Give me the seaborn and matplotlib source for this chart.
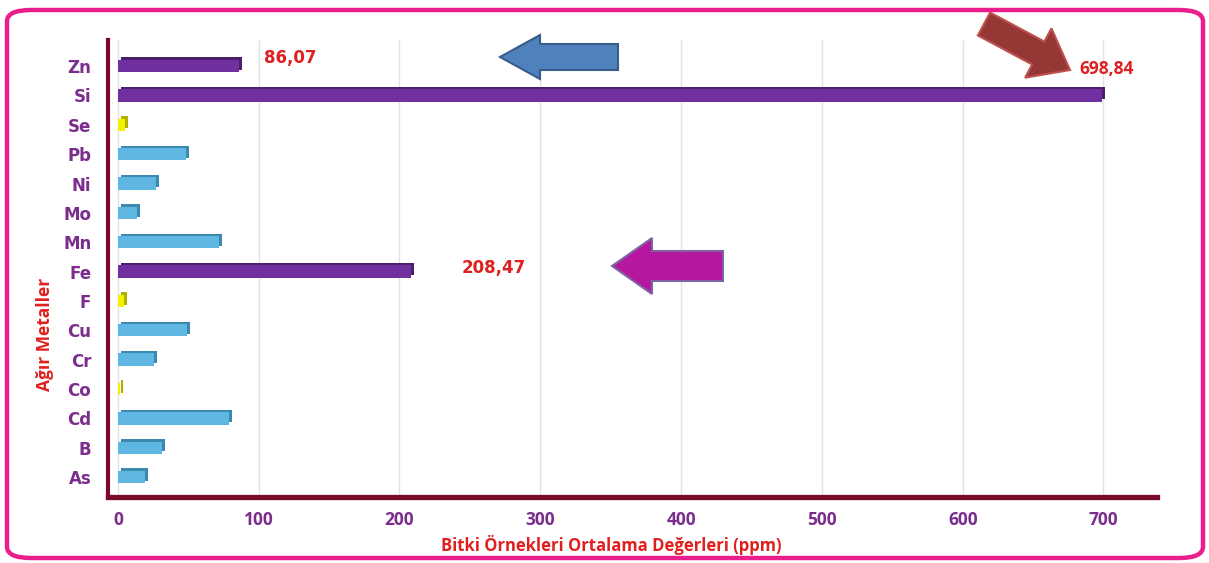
import matplotlib
matplotlib.use("Agg")
import matplotlib.pyplot as plt
import matplotlib.transforms as mtransforms
from matplotlib.patches import Polygon, FancyBboxPatch, Rectangle
import numpy as np
import pandas as pd
import seaborn as sns

# ---- data ----
elements = ["Zn", "Si", "Se", "Pb", "Ni", "Mo", "Mn", "Fe", "F", "Cu", "Cr", "Co", "Cd", "B", "As"]
values = [86.07, 698.84, 5.0, 48.5, 27.0, 13.5, 72.0, 208.47, 4.5, 49.0, 25.5, 1.5, 79.0, 31.5, 19.0]
groups = ["high", "high", "low", "mid", "mid", "mid", "mid", "high", "low", "mid", "mid", "low", "mid", "mid", "mid"]
labelled = {"Zn": "86,07", "Si": "698,84", "Fe": "208,47"}
x_ticks = [0, 100, 200, 300, 400, 500, 600, 700]

group_colors = {"high": "#7030A0", "mid": "#5DB7E0", "low": "#F2F200"}
group_dark = {"high": "#4B1F6E", "mid": "#3A8AB0", "low": "#B0B000"}

df = pd.DataFrame({"element": elements, "value": values, "group": groups})
palette = {e: group_colors[g] for e, g in zip(elements, groups)}

sns.set_theme(style="white")
plt.rcParams["font.family"] = ["DejaVu Sans"]

W, H = 1209, 563
fig = plt.figure(figsize=(W / 100, H / 100), dpi=100)
fig.patch.set_facecolor("white")

def fx(px):
    return px / W

def fy(py):
    return 1 - py / H

ax = fig.add_axes([fx(108), fy(497), fx(1157) - fx(108), fy(40) - fy(497)])

sns.barplot(data=df, y="element", x="value", hue="element", palette=palette,
            orient="h", width=0.42, legend=False, errorbar=None, saturation=1,
            ax=ax, zorder=3, linewidth=0)

# 3D-ish depth: darker copy of each bar shifted right/up
offset = mtransforms.ScaledTranslation(3 / 100, 2.5 / 100, fig.dpi_scale_trans)
for p, g in zip(list(ax.patches), groups):
    sh = Rectangle(p.get_xy(), p.get_width(), p.get_height(),
                   facecolor=group_dark[g], edgecolor="none",
                   transform=ax.transData + offset, zorder=2.9)
    ax.add_patch(sh)

ax.set_xlim(-7, 738)
ax.set_ylim(14.68, -0.89)
ax.set_xticks(x_ticks)
ax.set_xticklabels([str(t) for t in x_ticks])
ax.xaxis.grid(True, color="#E3E3E3", lw=1.0, zorder=0)
ax.yaxis.grid(False)
ax.set_axisbelow(True)

for s in ["top", "right"]:
    ax.spines[s].set_visible(False)
ax.spines["left"].set_color("#7B0A2A")
ax.spines["left"].set_linewidth(3)
ax.spines["bottom"].set_color("#7B0A2A")
ax.spines["bottom"].set_linewidth(3.8)

ax.tick_params(axis="y", length=0, pad=12, labelsize=12, labelcolor="#7B2D8E")
ax.tick_params(axis="x", length=0, pad=10, labelsize=12.5, labelcolor="#7B2D8E")
for t in ax.get_yticklabels():
    t.set_fontweight("bold")
for t in ax.get_xticklabels():
    t.set_fontweight("bold")
    t.set_family("Open Sans")
ax.set_xlabel("")
ax.set_ylabel("")

# value labels
label_pos = {"Zn": (104, -0.27), "Si": (683, 0.1), "Fe": (244, 6.88)}
for e, txt in labelled.items():
    x, y = label_pos[e]
    ax.text(x, y, txt, color="#E02020", fontsize=12.5 if e == "Si" else 12,
            fontweight="bold", ha="left", va="center", zorder=5,
            family="Open Sans" if e == "Si" else "DejaVu Sans")

# axis titles
fig.text(fx(611), fy(545), "Bitki Örnekleri Ortalama Değerleri (ppm)",
         color="#E0201E", fontsize=12, fontweight="bold", ha="center", va="center",
         family="Open Sans")
fig.text(fx(45), fy(334), "Ağır Metaller", color="#E0201E", fontsize=12.5,
         fontweight="bold", rotation=90, ha="center", va="center", family="Open Sans")

# decorative arrows (figure pixel coordinates)
def arrow_poly(tail, tip, body_w, head_w, head_len):
    tail = np.array(tail, float)
    tip = np.array(tip, float)
    d = tip - tail
    L = np.hypot(*d)
    u = d / L
    n = np.array([-u[1], u[0]])
    base = tip - u * head_len
    pts = [tail + n * body_w / 2, base + n * body_w / 2, base + n * head_w / 2, tip,
           base - n * head_w / 2, base - n * body_w / 2, tail - n * body_w / 2]
    return [(fx(p[0]), fy(p[1])) for p in pts]

arrows = [
    ((618, 57), (500, 57), 26, 44, 40, "#4F81BD", "#385D8A"),
    ((723, 266), (612, 266), 30, 56, 40, "#B5179E", "#8064A2"),
    ((984, 24), (1070, 70), 26, 56, 36, "#953735", "#C0504D"),
]
for tail, tip, bw, hw, hl, fc, ec in arrows:
    fig.add_artist(Polygon(arrow_poly(tail, tip, bw, hw, hl), closed=True,
                           facecolor=fc, edgecolor=ec, lw=1.5,
                           transform=fig.transFigure, zorder=6))

# pink rounded frame
fig.add_artist(FancyBboxPatch((fx(7), fy(558)), fx(1203) - fx(7), fy(10) - fy(558),
                              boxstyle="round,pad=0,rounding_size=0.02",
                              transform=fig.transFigure, facecolor="none",
                              edgecolor="#E91E8C", lw=3.2, zorder=10))

fig.savefig("out.png", dpi=100)
